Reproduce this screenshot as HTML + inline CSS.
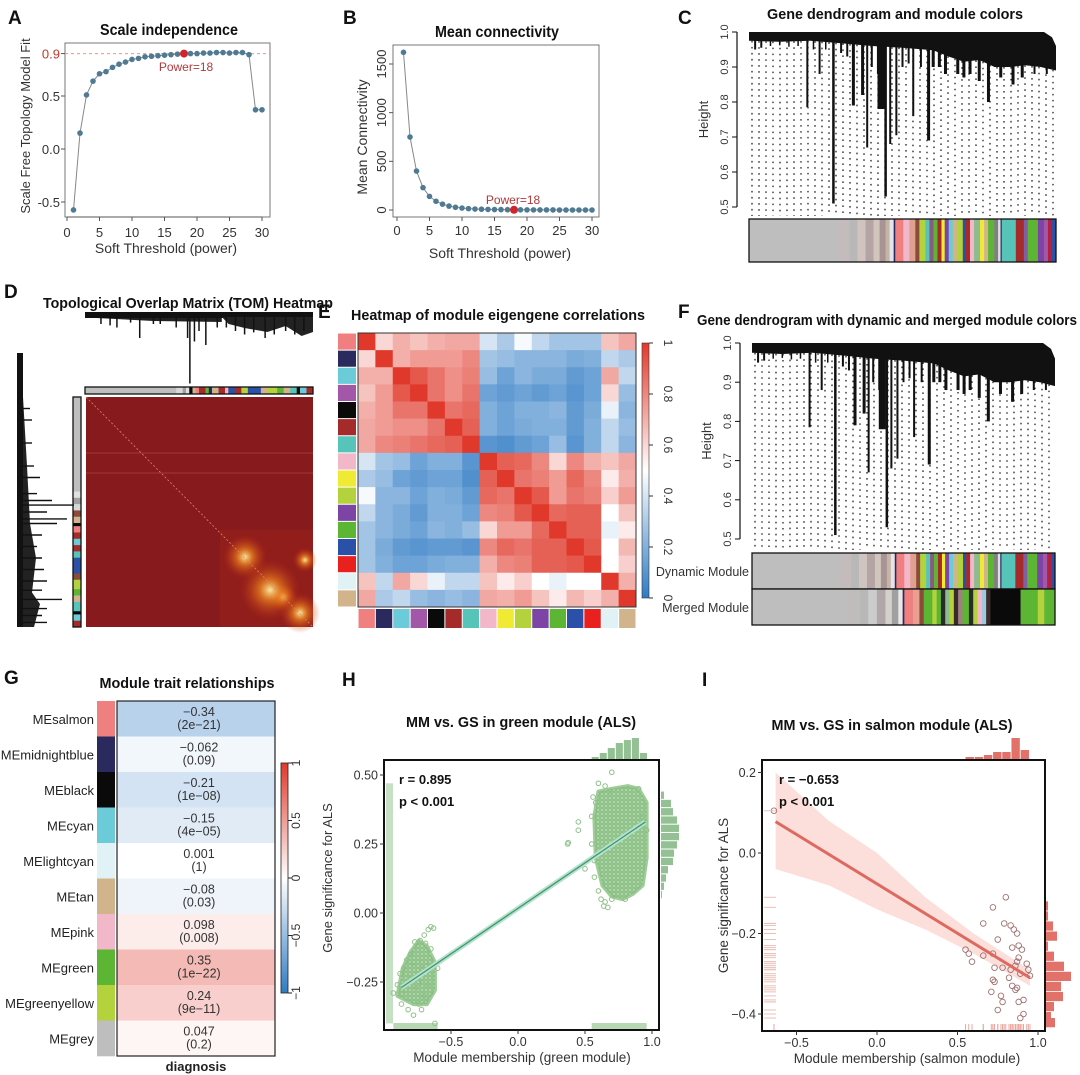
<!DOCTYPE html>
<html><head><meta charset="utf-8"><title>WGCNA figure</title>
<style>
html,body{margin:0;padding:0;background:#fff;}
svg{display:block;font-family:"Liberation Sans Narrow","Liberation Sans",Arial,sans-serif;}
.t{font-weight:bold;fill:#111;}
.lt{font-weight:bold;font-family:"Liberation Sans",sans-serif;font-size:19px;fill:#111;}
</style></head>
<body>
<svg id="fig" width="1080" height="1075" viewBox="0 0 1080 1075" xmlns="http://www.w3.org/2000/svg">
<defs>
<linearGradient id="cbE" x1="0" y1="1" x2="0" y2="0"><stop offset="0" stop-color="#2f7bc4"/><stop offset="0.5" stop-color="#ffffff"/><stop offset="1" stop-color="#e0392b"/></linearGradient>
<radialGradient id="glow"><stop offset="0" stop-color="#fff2a0" stop-opacity="0.95"/><stop offset="0.35" stop-color="#f08a20" stop-opacity="0.7"/><stop offset="1" stop-color="#c03010" stop-opacity="0"/></radialGradient>
<pattern id="dotsG" width="4" height="4" patternUnits="userSpaceOnUse"><circle cx="2" cy="2" r="1.8" fill="none" stroke="#7fb97a" stroke-width="0.8"/></pattern>
</defs>

<text class="lt" x="8" y="24">A</text>
<text class="lt" x="343" y="24">B</text>
<text class="lt" x="678" y="24">C</text>
<text class="lt" x="4" y="298">D</text>
<text class="lt" x="318" y="318">E</text>
<text class="lt" x="678" y="318">F</text>
<text class="lt" x="4" y="684">G</text>
<text class="lt" x="342" y="686">H</text>
<text class="lt" x="702" y="686">I</text>

<text class="t" x="169" y="35" font-size="16" text-anchor="middle" textLength="138" lengthAdjust="spacingAndGlyphs">Scale independence</text>
<text class="t" x="497" y="37" font-size="16" text-anchor="middle" textLength="124" lengthAdjust="spacingAndGlyphs">Mean connectivity</text>
<text class="t" x="895" y="19" font-size="15" text-anchor="middle" textLength="256" lengthAdjust="spacingAndGlyphs">Gene dendrogram and module colors</text>
<text class="t" x="188" y="308" font-size="15" text-anchor="middle" textLength="290" lengthAdjust="spacingAndGlyphs">Topological Overlap Matrix (TOM) Heatmap</text>
<text class="t" x="498" y="320" font-size="15" text-anchor="middle" textLength="294" lengthAdjust="spacingAndGlyphs">Heatmap of module eigengene correlations</text>
<text class="t" x="887" y="325" font-size="15" text-anchor="middle" textLength="380" lengthAdjust="spacingAndGlyphs">Gene dendrogram with dynamic and merged module colors</text>
<text class="t" x="187" y="688" font-size="15" text-anchor="middle" textLength="175" lengthAdjust="spacingAndGlyphs">Module trait relationships</text>
<text class="t" x="521" y="727" font-size="15" text-anchor="middle" textLength="230" lengthAdjust="spacingAndGlyphs">MM vs. GS in green module (ALS)</text>
<text class="t" x="892" y="730" font-size="15" text-anchor="middle" textLength="241" lengthAdjust="spacingAndGlyphs">MM vs. GS in salmon module (ALS)</text>

<g id="root"></g>
</svg>
<script>
// ---------------- DATA ----------------
const powers = [1,2,3,4,5,6,7,8,9,10,11,12,13,14,15,16,17,18,19,20,21,22,23,24,25,26,27,28,29,30];
const fitValues = [-0.575,0.15,0.51,0.64,0.71,0.73,0.77,0.80,0.82,0.845,0.855,0.87,0.875,0.88,0.885,0.89,0.895,0.90,0.90,0.90,0.905,0.905,0.91,0.91,0.905,0.91,0.91,0.89,0.37,0.37];
const connValues = [1620,750,400,230,140,90,60,40,28,20,14,10,8,6,5,4,3,2,2,1,1,1,1,1,0,0,0,0,0,0];
const aTicksY = [0.9,0.5,0.0,-0.5];
const aTickLabels = ["0.9","0.5","0.0","-0.5"];
const xTicksPow = [0,5,10,15,20,25,30];
const bTicksY = [0,500,1000,1500];
const chosenPower = 18;

const dendroTicks = [1.0,0.9,0.8,0.7,0.6,0.5];
const canopyC = [[0,0.975],[0.1,0.972],[0.2,0.975],[0.3,0.968],[0.4,0.96],[0.5,0.955],[0.6,0.948],[0.65,0.93],[0.7,0.915],[0.75,0.92],[0.8,0.9],[0.85,0.9],[0.9,0.905],[0.95,0.9],[1,0.89]];
const spikesC = [[0.02,0.95,2],[0.04,0.955,2],[0.07,0.96,1.5],[0.1,0.962,1.5],[0.13,0.958,1.5],[0.16,0.96,1.5],[0.19,0.785,2],[0.21,0.95,1.5],[0.23,0.88,2],[0.25,0.95,1.5],[0.275,0.51,2.5],[0.3,0.94,2],[0.32,0.93,2],[0.34,0.79,3],[0.37,0.82,3],[0.385,0.67,2],[0.4,0.9,2],[0.42,0.88,2],[0.43,0.78,7],[0.445,0.53,2.5],[0.46,0.68,2],[0.48,0.705,2],[0.5,0.9,2],[0.52,0.91,2],[0.535,0.76,2],[0.56,0.9,2],[0.585,0.69,3],[0.6,0.9,3],[0.62,0.9,3],[0.64,0.88,3],[0.68,0.88,3],[0.7,0.87,3],[0.72,0.88,3],[0.75,0.86,3],[0.78,0.80,3],[0.82,0.87,3],[0.86,0.85,3],[0.89,0.87,3],[0.93,0.88,2],[0.97,0.88,2]];
const stripDynamic = [["#bebebe",22],["#c4bcbc",3],["#b8b8b8",2],["#cfc4c0",2],["#b5a4a4",2],["#d0c6bc",1.5],["#a89494",1.5],["#c8b4a4",1],["#e4e4ec",1],["#2b2a5e",0.4],["#f08080",2],["#f2b7c8",1.5],["#e0a090",1.5],["#8b4a3a",1],["#b4d23c",1.5],["#56c4b8",1],["#8a5a80",1],["#5db534",1],["#a52a2a",1],["#f0ea35",0.8],["#7b44a5",1],["#6ccbd8",1],["#d2b48c",1],["#b4d23c",1.5],["#2a50a8",0.8],["#a52a2a",1],["#f2b7c8",1],["#8fbc8f",1.5],["#f0ea35",1],["#d2b48c",1],["#5db534",1.5],["#808080",1],["#e0e0e0",0.6],["#2b2a5e",0.3],["#56c4b8",3.5],["#a52a2a",2],["#8060a0",1],["#5db534",2.5],["#7b44a5",1.5],["#a357a8",1],["#b22040",1],["#2a50a8",1]];
const stripMerged = [["#bebebe",22],["#c0bcbc",3],["#b8b8b8",2],["#cccccc",2],["#b0a8a8",2],["#d4d0cc",1.5],["#a0a0a0",1.5],["#e8e8e8",1],["#2b2a5e",0.4],["#f08080",2],["#e8a090",1.5],["#8b4a3a",1],["#5db534",2],["#b4d23c",1],["#5db534",1],["#2a2a2a",1],["#8fbc8f",1],["#b4d23c",1],["#3a2a2a",1],["#a08080",1],["#5db534",1.5],["#2a2a2a",1],["#b4d23c",1],["#f2b7c8",1],["#a0c8e0",1],["#3a2a2a",1],["#0a0a0a",7],["#5db534",4],["#b4d23c",1.5],["#5db534",2.5]];
const stripD = [["#bebebe",28],["#d8d8d8",2],["#a0a0a0",1],["#e0e0e0",1],["#0a0a0a",1],["#d2b48c",1],["#f08080",1],["#a52a2a",2],["#5db534",1],["#2b2a5e",1],["#d2b48c",2],["#a52a2a",2],["#f2b7c8",1],["#2a50a8",2],["#a52a2a",2],["#b4d23c",2],["#2a50a8",4],["#d2b48c",2],["#b4d23c",3],["#5db534",2],["#d2b48c",2],["#56c4b8",2],["#0a0a0a",1],["#6ccbd8",2],["#a52a2a",2]];
const stripDLeft = [["#bebebe",30],["#e0e0e0",2],["#a0a0a0",2],["#d8d8d8",2],["#8b4a3a",2],["#d2b48c",2],["#0a0a0a",1],["#f08080",2],["#a52a2a",2],["#6ccbd8",2],["#a52a2a",2],["#56c4b8",2],["#2a50a8",5],["#8b4a3a",2],["#b4d23c",3],["#5db534",2],["#d2b48c",2],["#56c4b8",3],["#0a0a0a",1],["#6ccbd8",2],["#a52a2a",2]];
const spikesDTop = [[0.07,0.1],[0.11,0.12],[0.14,0.15],[0.2,0.08],[0.24,0.3],[0.3,0.1],[0.33,0.1],[0.4,0.15],[0.45,0.3],[0.46,0.95],[0.48,0.35],[0.5,0.2],[0.53,0.4],[0.58,0.15],[0.62,0.15],[0.66,0.2],[0.7,0.25],[0.74,0.22],[0.79,0.3],[0.83,0.25],[0.88,0.2],[0.92,0.25],[0.96,0.2]];
const spikesDLeft = [[0.05,8],[0.1,10],[0.2,10],[0.3,12],[0.35,18],[0.42,15],[0.45,30],[0.47,52],[0.5,25],[0.53,45],[0.55,35],[0.6,20],[0.65,15],[0.7,20],[0.75,22],[0.8,25],[0.84,20],[0.88,40],[0.92,25],[0.95,20],[0.98,25]];

const moduleColorsE = ["#f08080","#2b2a5e","#6ccbd8","#a357a8","#0a0a0a","#a52a2a","#56c4b8","#f2b7c8","#f0ea35","#b4d23c","#7b44a5","#5db534","#2a50a8","#e8201e","#e0f2f5","#d2b48c"];
const corrMatrix = [
[1,.6,.7,.65,.7,.72,.72,.4,.3,.48,.35,.28,.28,.28,.65,.72],
[.6,1,.7,.75,.75,.75,.8,.28,.25,.22,.22,.22,.18,.2,.35,.3],
[.7,.7,1,.92,.85,.78,.82,.25,.15,.22,.18,.18,.12,.15,.72,.35],
[.65,.75,.92,1,.85,.78,.85,.15,.12,.15,.12,.15,.1,.15,.6,.25],
[.7,.75,.85,.85,1,.85,.88,.2,.15,.2,.2,.22,.12,.18,.45,.22],
[.72,.75,.78,.78,.85,1,.9,.2,.15,.18,.2,.2,.12,.2,.35,.25],
[.72,.8,.82,.85,.88,.9,1,.1,.08,.12,.15,.25,.1,.2,.35,.22],
[.4,.28,.25,.15,.2,.2,.1,1,.9,.88,.8,.6,.8,.7,.65,.72],
[.3,.25,.15,.12,.15,.15,.08,.9,1,.85,.82,.75,.88,.8,.55,.7],
[.48,.22,.22,.15,.2,.18,.12,.88,.85,1,.92,.75,.85,.82,.62,.75],
[.35,.22,.18,.12,.2,.2,.15,.8,.82,.92,1,.88,.9,.9,.5,.65],
[.28,.22,.18,.15,.22,.2,.25,.6,.75,.75,.88,1,.9,.9,.45,.55],
[.28,.18,.12,.1,.12,.12,.1,.8,.88,.85,.9,.9,1,.92,.5,.68],
[.28,.2,.15,.15,.18,.2,.2,.7,.8,.82,.9,.9,.92,1,.5,.62],
[.65,.35,.72,.6,.45,.35,.35,.65,.55,.62,.5,.45,.5,.5,1,.7],
[.72,.3,.35,.25,.22,.25,.22,.72,.7,.75,.65,.55,.68,.62,.7,1]];
const eTicks = [0,0.2,0.4,0.6,0.8,1];
const eTickLabels = ["0","0.2","0.4","0.6","0.8","1"];

const traitModules = ["MEsalmon","MEmidnightblue","MEblack","MEcyan","MElightcyan","MEtan","MEpink","MEgreen","MEgreenyellow","MEgrey"];
const traitColors = ["#f08080","#2b2a5e","#0a0a0a","#6ccbd8","#e0f2f5","#d2b48c","#f2b7c8","#5db534","#b4d23c","#bebebe"];
const traitCorr = [-0.34,-0.062,-0.21,-0.15,0.001,-0.08,0.098,0.35,0.24,0.047];
const traitCorrLabels = ["\u22120.34","\u22120.062","\u22120.21","\u22120.15","0.001","\u22120.08","0.098","0.35","0.24","0.047"];
const traitPLabels = ["(2e\u221221)","(0.09)","(1e\u221208)","(4e\u221205)","(1)","(0.03)","(0.008)","(1e\u221222)","(9e\u221211)","(0.2)"];
const gTicks = [-1,-0.5,0,0.5,1];
const gTickLabels = ["\u22121","\u22120.5","0","0.5","1"];

const hPointsX = [0.7,0.6,0.65,0.68,0.56,0.58,0.45,0.45,0.37,0.375,0.5,0.57,0.57,0.6,0.62,0.65,0.67,0.64,0.7,0.55,0.55,0.93,0.96,0.9,0.8,0.72,-0.65,-0.63,-0.67,-0.7,-0.73,-0.77,-0.8,-0.83,-0.85,-0.88,-0.9,-0.93,-0.87,-0.82,-0.78,-0.74,-0.72,-0.7,-0.67,-0.62,-0.6,-0.65,-0.69,-0.76,-0.84,-0.8,-0.72,-0.78,-0.66,-0.74];
const hPointsY = [0.51,0.47,0.46,0.44,0.42,0.40,0.33,0.30,0.25,0.255,0.16,0.19,0.13,0.08,0.05,0.04,0.02,0.025,0.05,0.25,0.35,0.35,0.3,0.45,0.05,0.1,-0.05,-0.055,-0.06,-0.08,-0.1,-0.105,-0.15,-0.17,-0.2,-0.22,-0.26,-0.29,-0.33,-0.35,-0.37,-0.33,-0.35,-0.3,-0.26,-0.4,-0.2,-0.13,-0.11,-0.27,-0.28,-0.24,-0.2,-0.18,-0.18,-0.25];
const hCoreX = [0.6,0.7,0.82,0.9,0.96,0.96,0.93,0.86,0.78,0.7,0.63,0.58,0.57];
const hCoreY = [0.44,0.45,0.46,0.45,0.40,0.2,0.1,0.07,0.05,0.06,0.1,0.2,0.35];
const hLeftCoreX = [-0.86,-0.8,-0.74,-0.68,-0.62,-0.62,-0.68,-0.78,-0.9];
const hLeftCoreY = [-0.2,-0.14,-0.1,-0.12,-0.18,-0.28,-0.33,-0.33,-0.3];
const hFitX = [-0.87,0.95];
const hFitY = [-0.27,0.33];
const hTicksX = [-0.5,0,0.5,1.0];
const hTickLabelsX = ["\u22120.5","0.0","0.5","1.0"];
const hTicksY = [0.5,0.25,0,-0.25];
const hTickLabelsY = ["0.50","0.25","0.00","\u22120.25"];
const hTopHistStart = [0.55,0.61,0.67,0.73,0.79,0.85,0.91];
const hTopHistCounts = [3,7,12,17,20,22,7];
const hRightHistStart = [0.44,0.41,0.38,0.35,0.32,0.29,0.26,0.23,0.20,0.17,0.14,0.11,0.08];
const hRightHistCounts = [3,10,12,16,18,18,16,13,12,7,5,3,1];

const iPointsX = [0.80,0.72,0.66,0.79,0.83,0.85,0.87,0.75,0.55,0.57,0.59,0.66,0.72,0.84,0.88,0.9,0.88,0.87,0.86,0.93,0.94,0.73,0.78,0.83,0.89,0.95,0.72,0.73,0.82,0.84,0.86,0.87,0.71,0.77,0.78,0.88,0.91,0.75,0.91,0.89,-0.64];
const iPointsY = [-0.11,-0.135,-0.175,-0.175,-0.18,-0.19,-0.2,-0.215,-0.24,-0.25,-0.27,-0.255,-0.25,-0.235,-0.23,-0.24,-0.26,-0.27,-0.28,-0.275,-0.29,-0.285,-0.285,-0.29,-0.3,-0.305,-0.315,-0.32,-0.31,-0.33,-0.34,-0.335,-0.345,-0.355,-0.37,-0.37,-0.365,-0.39,-0.4,-0.41,0.105];
const iFitX = [-0.63,0.95];
const iFitY = [0.078,-0.31];
const iBandX = [-0.63,-0.3,0,0.3,0.6,0.95];
const iBandUpper = [0.2,0.08,0.0,-0.11,-0.2,-0.29];
const iBandLower = [-0.04,-0.08,-0.14,-0.19,-0.25,-0.33];
const iTicksX = [-0.5,0,0.5,1.0];
const iTickLabelsX = ["\u22120.5","0.0","0.5","1.0"];
const iTicksY = [0.2,0,-0.2,-0.4];
const iTickLabelsY = ["0.2","0.0","\u22120.2","\u22120.4"];
const iTopHistStart = [0.55,0.607,0.664,0.721,0.778,0.835,0.892];
const iTopHistCounts = [3,3,5,8,8,22,10];
const iRightHistStart = [-0.12,-0.145,-0.17,-0.195,-0.22,-0.245,-0.27,-0.295,-0.32,-0.345,-0.37,-0.395,-0.41];
const iRightHistCounts = [2,2,7,11,2,8,18,25,15,17,8,5,9];

// ---------------- HELPERS ----------------
const NS = "http://www.w3.org/2000/svg";
const root = document.getElementById("root");
function el(tag, attrs, parent) {
  const e = document.createElementNS(NS, tag);
  for (const k in attrs) e.setAttribute(k, attrs[k]);
  (parent || root).appendChild(e);
  return e;
}
function lin(d0, d1, r0, r1) { return v => r0 + (v - d0) * (r1 - r0) / (d1 - d0); }
function txt(s, attrs, parent) { const t = el("text", attrs, parent); t.textContent = s; return t; }
function mix(a, b, t) {
  const pa = [parseInt(a.substr(1,2),16),parseInt(a.substr(3,2),16),parseInt(a.substr(5,2),16)];
  const pb = [parseInt(b.substr(1,2),16),parseInt(b.substr(3,2),16),parseInt(b.substr(5,2),16)];
  return "rgb(" + pa.map((x,i)=>Math.round(x+(pb[i]-x)*t)).join(",") + ")";
}
function divColor(v) { return v < 0 ? mix("#ffffff", "#2f7bc4", -v) : mix("#ffffff", "#e0392b", v); }

// ---------------- PANEL A ----------------
{
  const g = el("g", {});
  
  
  const x = lin(0, 30, 67, 262), y = lin(0, 1, 149, 43);
  const fr = el("rect", {x:65, y:43, width:205, height:174, fill:"none", stroke:"#777", "stroke-width":1}, g);
  
  
  const ref = el("line", {x1:65, x2:270, y1:y(0.9), y2:y(0.9), stroke:"#e59a8a", "stroke-dasharray":"3 3"}, g);
  
  
  const pl = el("polyline", {points: powers.map((p,i)=>x(p)+","+y(fitValues[i])).join(" "), fill:"none", stroke:"#888", "stroke-width":1}, g);
  
  
  powers.forEach((p,i)=>{
    const c = el("circle", {cx:x(p), cy:y(fitValues[i]), r: p===chosenPower?4:2.8, fill: p===chosenPower?"#d0262b":"#4f7a94"}, g);
    
    
  });
  txt("Power=18", {x:x(chosenPower)+2, y:71, "font-size":12, fill:"#b03a3a", "text-anchor":"middle"}, g);
  aTicksY.forEach((v,i)=>{
    el("line", {x1:61, x2:65, y1:y(v), y2:y(v), stroke:"#555"}, g);
    txt(aTickLabels[i], {x:60, y:y(v)+5, "font-size":13, "text-anchor":"end", fill: i===0?"#c0392b":"#333"}, g);
  });
  xTicksPow.forEach(v=>{
    el("line", {x1:x(v), x2:x(v), y1:217, y2:221, stroke:"#555"}, g);
    txt(String(v), {x:x(v), y:237, "font-size":13, "text-anchor":"middle", fill:"#333"}, g);
  });
  el("line", {x1:x(0), x2:x(30), y1:217, y2:217, stroke:"#555"}, g);
  txt("Soft Threshold (power)", {x:166, y:253, "font-size":14, "text-anchor":"middle", fill:"#333"}, g);
  txt("Scale Free Topology Model Fit", {x:0, y:0, "font-size":13, "text-anchor":"middle", fill:"#333", transform:"translate(30,126) rotate(-90)"}, g);
}

// ---------------- PANEL B ----------------
{
  const g = el("g", {});
  
  
  const x = lin(0, 30, 397, 592), y = lin(0, 1500, 210, 64);
  const fr = el("rect", {x:393, y:45, width:206, height:172, fill:"none", stroke:"#777"}, g);
  
  
  const pl = el("polyline", {points: powers.map((p,i)=>x(p)+","+y(connValues[i])).join(" "), fill:"none", stroke:"#888"}, g);
  
  
  powers.forEach((p,i)=>{
    const c = el("circle", {cx:x(p), cy:y(connValues[i]), r: p===chosenPower?4:2.8, fill: p===chosenPower?"#d0262b":"#4f7a94"}, g);
    
    
  });
  txt("Power=18", {x:x(chosenPower)-1, y:204, "font-size":12, fill:"#b03a3a", "text-anchor":"middle"}, g);
  bTicksY.forEach(v=>{
    el("line", {x1:389, x2:393, y1:y(v), y2:y(v), stroke:"#555"}, g);
    txt(String(v), {x:0, y:0, "font-size":13, "text-anchor":"middle", fill:"#333", transform:`translate(386,${y(v)}) rotate(-90)`}, g);
  });
  xTicksPow.forEach(v=>{
    el("line", {x1:x(v), x2:x(v), y1:217, y2:221, stroke:"#555"}, g);
    txt(String(v), {x:x(v), y:235, "font-size":13, "text-anchor":"middle", fill:"#333"}, g);
  });
  txt("Soft Threshold (power)", {x:500, y:258, "font-size":14, "text-anchor":"middle", fill:"#333"}, g);
  txt("Mean Connectivity", {x:0, y:0, "font-size":14, "text-anchor":"middle", fill:"#333", transform:"translate(367,137) rotate(-90)"}, g);
}

// ---------------- DENDROGRAM HELPER ----------------
function strip(g, segs, x0, x1, y0, y1, vertical) {
  const tot = segs.reduce((s,a)=>s+a[1],0);
  let acc = 0;
  segs.forEach(sg=>{
    const f0 = acc/tot, f1 = (acc+sg[1])/tot; acc += sg[1];
    let r;
    if (!vertical) r = el("rect", {x:x0+f0*(x1-x0), y:y0, width:(f1-f0)*(x1-x0)+0.3, height:y1-y0, fill:sg[0]}, g);
    else r = el("rect", {x:x0, y:y0+f0*(y1-y0), width:x1-x0, height:(f1-f0)*(y1-y0)+0.3, fill:sg[0]}, g);
    
    
  });
  el("rect", {x:x0, y:y0, width:x1-x0, height:y1-y0, fill:"none", stroke:"#111", "stroke-width":1.3}, g);
}
function canopyAt(f) {
  for (let i=1;i<canopyC.length;i++) if (f<=canopyC[i][0]) {
    const a=canopyC[i-1], b=canopyC[i]; return a[1]+(b[1]-a[1])*(f-a[0])/(b[0]-a[0]);
  }
  return canopyC[canopyC.length-1][1];
}
function dendro(g, x0, x1, y1v, y05v, leafBottom, axisX) {
  const y = lin(1, 0.5, y1v, y05v), W = x1-x0;
  for (let xx = x0+3; xx < x1; xx += 7) {
    const f = (xx-x0)/W;
    const l = el("line", {x1:xx, x2:xx, y1:y(canopyAt(f)), y2:leafBottom, stroke:"#222", "stroke-width":1.3, "stroke-dasharray":"1.6 4.4"}, g);
    
    
  }
  const pts = [[x0, y(1)], [x1-12, y(1)], [x1-4, y(0.985)], [x1, y(0.96)]];
  for (let i=canopyC.length-1;i>=0;i--) pts.push([x0+canopyC[i][0]*W, y(canopyC[i][1])]);
  const cp = el("polygon", {points: pts.map(p=>p.join(",")).join(" "), fill:"#111"}, g);
  
  
  spikesC.forEach(s=>{
    const xx = x0 + s[0]*W;
    const r = el("rect", {x:xx-s[2]/2, y:y(canopyAt(s[0]))-1, width:s[2], height:Math.max(1, y(s[1])-y(canopyAt(s[0]))+1), fill:"#111"}, g);
    
    
  });
  el("line", {x1:axisX, x2:axisX, y1:y(1), y2:y(0.5), stroke:"#111", "stroke-width":1.2}, g);
  dendroTicks.forEach(v=>{
    el("line", {x1:axisX-5, x2:axisX, y1:y(v), y2:y(v), stroke:"#111"}, g);
    txt(v.toFixed(1), {x:0, y:0, "font-size":11, "text-anchor":"middle", fill:"#333", transform:`translate(${axisX-9},${y(v)}) rotate(-90)`}, g);
  });
  txt("Height", {x:0, y:0, "font-size":13, "text-anchor":"middle", fill:"#333", transform:`translate(${axisX-29},${(y(1)+y(0.5))/2}) rotate(-90)`}, g);
}

// ---------------- PANEL C ----------------
{
  const g = el("g", {});
  
  
  dendro(g, 749, 1056, 32, 207, 216, 737);
  strip(g, stripDynamic, 749, 1056, 219, 262, false);
}

// ---------------- PANEL F ----------------
{
  const g = el("g", {});
  
  
  dendro(g, 752, 1055, 343, 539, 550, 740);
  strip(g, stripDynamic, 752, 1055, 553, 589, false);
  strip(g, stripMerged, 752, 1055, 589, 625, false);
  txt("Dynamic Module", {x:749, y:576, "font-size":12.5, "text-anchor":"end", fill:"#333"}, g);
  txt("Merged Module", {x:749, y:612, "font-size":12.5, "text-anchor":"end", fill:"#333"}, g);
}

// ---------------- PANEL D ----------------
{
  const g = el("g", {});
  
  
  const hm = el("rect", {x:86, y:397, width:227, height:230, fill:"#861a1d"}, g);
  
  
  el("line", {x1:86, y1:453, x2:313, y2:453, stroke:"#b04040", "stroke-width":0.8}, g);
  el("line", {x1:86, y1:473, x2:313, y2:473, stroke:"#b04040", "stroke-width":0.8}, g);
  el("rect", {x:220, y:530, width:93, height:97, fill:"#b02818", opacity:0.3}, g);
  [[245,557,22],[283,597,14],[300,613,20],[270,590,30],[305,560,12]].forEach(c=>{
    const gl = el("circle", {cx:c[0], cy:c[1], r:c[2], fill:"url(#glow)"}, g);
    
    
  });
  el("line", {x1:86, y1:397, x2:313, y2:627, stroke:"#e08070", "stroke-width":0.8, "stroke-dasharray":"2 2"}, g);
  strip(g, stripD, 85, 313, 387, 394, false);
  strip(g, stripDLeft, 73, 81, 397, 627, true);
  const tx = lin(0, 1, 85, 313);
  el("rect", {x:85, y:312, width:228, height:6, fill:"#111"}, g);
  el("polygon", {points:`${tx(0.05)},318 ${tx(0.6)},318 ${tx(0.6)},322 ${tx(0.3)},321`, fill:"#222"}, g);
  el("polygon", {points:`${tx(0.6)},317 ${tx(1)},317 ${tx(1)},332 ${tx(0.95)},336 ${tx(0.88)},326 ${tx(0.8)},332 ${tx(0.7)},328 ${tx(0.63)},324`, fill:"#222"}, g);
  spikesDTop.forEach(s=>{
    const b = el("line", {x1:tx(s[0]), x2:tx(s[0]), y1:317, y2:317+s[1]*70, stroke:"#111", "stroke-width":1.5}, g);
    
    
  });
  const ly = lin(0, 1, 397, 627);
  el("rect", {x:17, y:353, width:6, height:274, fill:"#111"}, g);
  el("polygon", {points:`23,${ly(0.0)} 27,${ly(0.3)} 30,${ly(0.55)} 36,${ly(0.7)} 32,${ly(0.85)} 40,${ly(0.9)} 34,${ly(1)} 23,${ly(1)}`, fill:"#222"}, g);
  spikesDLeft.forEach(s=>{
    const b = el("line", {x1:22, x2:22+s[1], y1:ly(s[0]), y2:ly(s[0]), stroke:"#111", "stroke-width":1.4}, g);
    
    
  });
}

// ---------------- PANEL E ----------------
{
  const g = el("g", {});
  
  
  const n = corrMatrix.length, X0 = 358, Y0 = 333, W = 278, H = 274;
  const cw = W/n, ch = H/n;
  corrMatrix.forEach((row,i)=>row.forEach((v,j)=>{
    const c = el("rect", {x:X0+j*cw, y:Y0+i*ch, width:cw+0.4, height:ch+0.4, fill:divColor(v*2-1)}, g);
    
    
  }));
  el("rect", {x:X0, y:Y0, width:W, height:H, fill:"none", stroke:"#333"}, g);
  moduleColorsE.forEach((c,i)=>{
    const l = el("rect", {x:338, y:Y0+i*ch+0.5, width:18, height:ch-1, fill:c}, g);
    
    
    const b = el("rect", {x:X0+i*cw+0.5, y:609, width:cw-1, height:19, fill:c}, g);
    
    
  });
  const cb = el("rect", {x:642, y:343, width:7, height:255, fill:"url(#cbE)", stroke:"#333", "stroke-width":0.6}, g);
  
  
  const cy = lin(0, 1, 598, 343);
  eTicks.forEach((v,i)=>{
    el("line", {x1:649, x2:653, y1:cy(v), y2:cy(v), stroke:"#333"}, g);
    txt(eTickLabels[i], {x:0, y:0, "font-size":12, "text-anchor":"middle", fill:"#333", transform:`translate(664,${cy(v)}) rotate(90)`}, g);
  });
}

// ---------------- PANEL G ----------------
{
  const g = el("g", {});
  
  
  const Y0 = 701, rh = 35.5;
  traitModules.forEach((m,i)=>{
    const yy = Y0 + i*rh;
    const c = el("rect", {x:117, y:yy, width:158, height:rh+0.3, fill:divColor(traitCorr[i])}, g);
    
    
    const sw = el("rect", {x:97, y:yy, width:18, height:rh+0.3, fill:traitColors[i]}, g);
    
    
    txt(m, {x:94, y:yy+rh/2+5, "font-size":13, "text-anchor":"end", fill:"#222"}, g);
    txt(traitCorrLabels[i], {x:199, y:yy+15, "font-size":12.5, "text-anchor":"middle", fill:"#333"}, g);
    txt(traitPLabels[i], {x:199, y:yy+28, "font-size":12.5, "text-anchor":"middle", fill:"#333"}, g);
  });
  el("rect", {x:117, y:Y0, width:158, height:rh*10, fill:"none", stroke:"#222", "stroke-width":1.2}, g);
  txt("diagnosis", {x:196, y:1071, "font-size":13, "font-weight":"bold", "text-anchor":"middle", fill:"#222"}, g);
  const cb = el("rect", {x:281, y:763, width:7, height:230, fill:"url(#cbE)", stroke:"#222", "stroke-width":0.8}, g);
  
  
  const cy = lin(-1, 1, 993, 763);
  gTicks.forEach((v,i)=>{
    el("line", {x1:288, x2:292, y1:cy(v), y2:cy(v), stroke:"#222"}, g);
    txt(gTickLabels[i], {x:0, y:0, "font-size":12, "text-anchor":"middle", fill:"#333", transform:`translate(300,${cy(v)}) rotate(-90)`}, g);
  });
  txt("Gene significance for ALS", {x:0, y:0, "font-size":13, "text-anchor":"middle", fill:"#333", transform:"translate(332,878) rotate(-90)"}, g);
}

// ---------------- SCATTER HELPER ----------------
function axesBox(g, fx0, fy0, fx1, fy1, x, y, ticksX, labX, ticksY, labY, xlab, xlabX, ylabX) {
  const fr = el("rect", {x:fx0, y:fy0, width:fx1-fx0, height:fy1-fy0, fill:"none", stroke:"#111", "stroke-width":2}, g);
  
  
  ticksX.forEach((v,i)=>{
    el("line", {x1:x(v), x2:x(v), y1:fy1, y2:fy1+4, stroke:"#333"}, g);
    txt(labX[i], {x:x(v), y:fy1+16, "font-size":12.5, "text-anchor":"middle", fill:"#333"}, g);
  });
  ticksY.forEach((v,i)=>{
    el("line", {x1:fx0-4, x2:fx0, y1:y(v), y2:y(v), stroke:"#333"}, g);
    txt(labY[i], {x:fx0-6, y:y(v)+4.5, "font-size":12.5, "text-anchor":"end", fill:"#333"}, g);
  });
  txt(xlab, {x:xlabX, y:fy1+32, "font-size":13.5, "text-anchor":"middle", fill:"#333"}, g);
  if (ylabX) txt("Gene significance for ALS", {x:0, y:0, "font-size":13.5, "text-anchor":"middle", fill:"#333", transform:`translate(${ylabX},${(fy0+fy1)/2}) rotate(-90)`}, g);
}

// ---------------- PANEL H ----------------
{
  const g = el("g", {});
  
  
  const x = lin(0, 1, 518, 652), y = lin(0, 0.25, 913, 844);
  const fx0 = 384, fy0 = 760, fx1 = 659, fy1 = 1030;
  hTopHistStart.forEach((v,i)=>{
    const b = el("rect", {x:x(v), y:fy0-hTopHistCounts[i], width:x(0.06)-x(0)-1, height:hTopHistCounts[i], fill:"#93c193"}, g);
    
    
  });
  hRightHistStart.forEach((v,i)=>{
    const b = el("rect", {x:fx1+2, y:y(v), width:hRightHistCounts[i], height:y(0)-y(0.03)-1, fill:"#93c193"}, g);
    
    
  });
  el("rect", {x:fx0+2, y:y(0.47), width:7, height:y(-0.4)-y(0.47), fill:"#b8d8b4", opacity:0.8}, g);
  el("rect", {x:x(0.55), y:fy1-7, width:x(0.96)-x(0.55), height:6, fill:"#b8d8b4"}, g);
  el("rect", {x:x(-0.93), y:fy1-7, width:x(-0.6)-x(-0.93), height:6, fill:"#b8d8b4"}, g);
  [[hCoreX,hCoreY],[hLeftCoreX,hLeftCoreY]].forEach(pr=>{
    const pts = pr[0].map((v,i)=>x(v)+","+y(pr[1][i])).join(" ");
    const base = el("polygon", {points: pts, fill:"#afd6a8", stroke:"#9fcd98", "stroke-width":4, "stroke-linejoin":"round"}, g);
    
    
    const tex = el("polygon", {points: pts, fill:"url(#dotsG)", stroke:"none"}, g);
    
    
  });
  hPointsX.forEach((v,i)=>{
    const c = el("circle", {cx:x(v), cy:y(hPointsY[i]), r:2.3, fill:"none", stroke:"#8fc08a", "stroke-width":1}, g);
    
    
  });
  const band = el("line", {x1:x(hFitX[0]), y1:y(hFitY[0]), x2:x(hFitX[1]), y2:y(hFitY[1]), stroke:"#b8e0d0", "stroke-width":5}, g);
  
  
  const fit = el("line", {x1:x(hFitX[0]), y1:y(hFitY[0]), x2:x(hFitX[1]), y2:y(hFitY[1]), stroke:"#3a9a6a", "stroke-width":1.3}, g);
  
  
  axesBox(g, fx0, fy0, fx1, fy1, x, y, hTicksX, hTickLabelsX, hTicksY, hTickLabelsY, "Module membership (green module)", 522, 0);
  txt("r = 0.895", {x:399, y:784, "font-size":13, "font-weight":"bold", fill:"#111"}, g);
  txt("p < 0.001", {x:399, y:806, "font-size":13, "font-weight":"bold", fill:"#111"}, g);
}

// ---------------- PANEL I ----------------
{
  const g = el("g", {});
  
  
  const x = lin(0, 0.5, 877, 957.5), y = lin(0, 0.2, 853, 772.5);
  const fx0 = 762, fy0 = 760, fx1 = 1045, fy1 = 1031;
  iTopHistStart.forEach((v,i)=>{
    const b = el("rect", {x:x(v), y:fy0-iTopHistCounts[i], width:x(0.057)-x(0)-0.8, height:iTopHistCounts[i], fill:"#e2716a"}, g);
    
    
  });
  iRightHistStart.forEach((v,i)=>{
    const b = el("rect", {x:fx1+1, y:y(v), width:iRightHistCounts[i], height:y(0)-y(0.025)-0.8, fill:"#e2716a"}, g);
    
    
  });
  const bandPts = iBandX.map((v,i)=>x(v)+","+y(iBandUpper[i])).concat(iBandX.slice().reverse().map((v,k)=>x(v)+","+y(iBandLower[iBandX.length-1-k])));
  const band = el("polygon", {points: bandPts.join(" "), fill:"#fbd9d3", opacity:0.85}, g);
  
  
  iPointsX.forEach((v,i)=>{
    const c = el("circle", {cx:x(v), cy:y(iPointsY[i]), r:2.8, fill:"none", stroke:"#a07070", "stroke-width":0.9}, g);
    
    
    const rb = el("line", {x1:x(v), x2:x(v), y1:fy1-7, y2:fy1-1, stroke:"#e8a8a0", "stroke-width":1}, g);
    
    
    const rl = el("line", {x1:fx0+2, x2:fx0+14, y1:y(iPointsY[i]), y2:y(iPointsY[i]), stroke:"#e8c0b8", "stroke-width":1}, g);
    
    
  });
  const fit = el("line", {x1:x(iFitX[0]), y1:y(iFitY[0]), x2:x(iFitX[1]), y2:y(iFitY[1]), stroke:"#dd6a60", "stroke-width":3}, g);
  
  
  axesBox(g, fx0, fy0, fx1, fy1, x, y, iTicksX, iTickLabelsX, iTicksY, iTickLabelsY, "Module membership (salmon module)", 907, 728);
  txt("r = \u22120.653", {x:779, y:784, "font-size":13, "font-weight":"bold", fill:"#111"}, g);
  txt("p < 0.001", {x:779, y:806, "font-size":13, "font-weight":"bold", fill:"#111"}, g);
}
</script>
</body></html>
